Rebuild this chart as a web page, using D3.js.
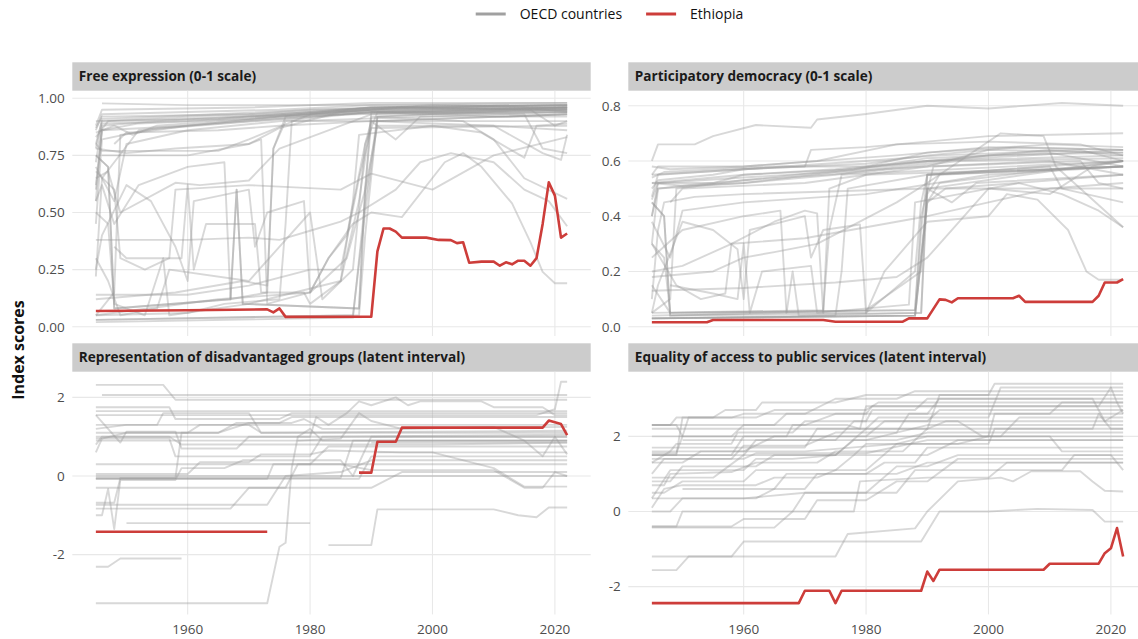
<!DOCTYPE html>
<html>
<head>
<meta charset="utf-8">
<script src="https://cdn.jsdelivr.net/npm/d3@7"></script>
<style>
  body { margin: 0; background: #fff; }
  text { font-family: "Open Sans", "Noto Sans", sans-serif; }
</style>
</head>
<body>
<svg id="chart" width="1138" height="639"></svg>
<script>
// ---- data (year, value) breakpoints ----
const panelTitles = [
  "Free expression (0-1 scale)",
  "Participatory democracy (0-1 scale)",
  "Representation of disadvantaged groups (latent interval)",
  "Equality of access to public services (latent interval)"
];
const seriesNames = ["OECD countries", "Ethiopia"];
const xTicks = [1960, 1980, 2000, 2020];
const yTicksFree = [0, 0.25, 0.5, 0.75, 1];
const yTicksPart = [0, 0.2, 0.4, 0.6, 0.8];
const yTicksLatent = [-2, 0, 2];

const ethFree = [[1945,0.069],[1960,0.072],[1973,0.076],[1974,0.063],[1975,0.08],[1976,0.043],[1990,0.044],
  [1991,0.33],[1992,0.43],[1993,0.43],[1994,0.416],[1995,0.39],[1999,0.39],[2001,0.38],[2003,0.379],[2004,0.366],
  [2005,0.37],[2006,0.28],[2008,0.285],[2010,0.285],[2011,0.267],[2012,0.282],[2013,0.273],[2014,0.289],[2015,0.289],
  [2016,0.267],[2017,0.3],[2018,0.45],[2019,0.632],[2020,0.574],[2021,0.39],[2022,0.408]];
const ethPart = [[1945,0.016],[1954,0.016],[1955,0.024],[1973,0.024],[1975,0.018],[1986,0.018],[1987,0.03],[1990,0.03],
  [1992,0.099],[1993,0.097],[1994,0.088],[1995,0.103],[2004,0.103],[2005,0.112],[2006,0.09],[2017,0.09],[2018,0.112],
  [2019,0.16],[2021,0.16],[2022,0.172]];
const ethRepr = [[1945,-1.42],[1973,-1.42],[1974,null],[1988,0.085],[1990,0.085],[1991,0.87],[1994,0.87],[1995,1.23],
  [2018,1.23],[2019,1.41],[2021,1.32],[2022,1.04]];
const ethEqual = [[1945,-2.44],[1969,-2.44],[1970,-2.11],[1974,-2.11],[1975,-2.44],[1976,-2.11],[1989,-2.11],[1990,-1.6],
  [1991,-1.85],[1992,-1.55],[2009,-1.55],[2010,-1.39],[2018,-1.39],[2019,-1.11],[2020,-0.98],[2021,-0.44],[2022,-1.2]];

const oecdFree = [
  [[1945,0.86],[1946,0.93],[1960,0.94],[1975,0.95],[1990,0.97],[2022,0.97]],
  [[1945,0.88],[1946,0.95],[1970,0.96],[1990,0.98],[2022,0.98]],
  [[1945,0.80],[1946,0.90],[1965,0.91],[1985,0.95],[2000,0.97],[2022,0.96]],
  [[1945,0.55],[1946,0.88],[1955,0.90],[1975,0.93],[1990,0.96],[2022,0.96]],
  [[1945,0.72],[1946,0.89],[1960,0.90],[1990,0.95],[2015,0.96],[2022,0.94]],
  [[1945,0.83],[1947,0.90],[1980,0.93],[1995,0.96],[2016,0.95],[2020,0.88],[2022,0.90]],
  [[1945,0.62],[1946,0.86],[1952,0.89],[1970,0.91],[1990,0.96],[2022,0.97]],
  [[1946,0.978],[1960,0.97],[1985,0.97],[2022,0.98]],
  [[1945,0.85],[1948,0.88],[1951,0.84],[1955,0.88],[1975,0.92],[1995,0.96],[2022,0.95]],
  [[1945,0.78],[1946,0.91],[1990,0.96],[2022,0.97]],
  [[1948,0.80],[1950,0.85],[1965,0.86],[1975,0.88],[1990,0.90],[2010,0.88],[2022,0.86]],
  [[1945,0.70],[1948,0.55],[1950,0.80],[1960,0.86],[1990,0.94],[2022,0.96]],
  [[1945,0.60],[1946,0.86],[1960,0.88],[1990,0.94],[2022,0.94]],
  [[1945,0.45],[1946,0.82],[1955,0.87],[1990,0.95],[2022,0.95]],
  [[1945,0.05],[1948,0.15],[1949,0.84],[1960,0.88],[1990,0.96],[2022,0.97]],
  [[1945,0.22],[1946,0.65],[1952,0.86],[1990,0.94],[2012,0.92],[2022,0.93]],
  [[1945,0.78],[1950,0.76],[1958,0.78],[1970,0.80],[1972,0.82],[1973,0.10],[1980,0.15],[1983,0.30],[1986,0.40],[1989,0.80],[1990,0.90],[2022,0.93]],
  [[1945,0.68],[1948,0.60],[1949,0.30],[1953,0.25],[1957,0.30],[1958,0.60],[1970,0.62],[1985,0.60],[1990,0.67],[2000,0.60],[2010,0.75],[2022,0.83]],
  [[1945,0.55],[1946,0.62],[1948,0.45],[1952,0.62],[1960,0.70],[1966,0.72],[1967,0.12],[1973,0.15],[1974,0.78],[1976,0.90],[2022,0.90]],
  [[1945,0.25],[1946,0.40],[1950,0.62],[1954,0.55],[1958,0.35],[1960,0.20],[1961,0.55],[1970,0.60],[1971,0.35],[1973,0.50],[1979,0.55],[1980,0.15],[1983,0.30],[1987,0.45],[1990,0.50],[1995,0.48],[2002,0.72],[2005,0.76],[2008,0.70],[2013,0.54],[2016,0.37],[2018,0.24],[2020,0.19],[2022,0.19]],
  [[1945,0.38],[1960,0.38],[1970,0.39],[1975,0.38],[1980,0.42],[1985,0.46],[1988,0.50],[1994,0.60],[1998,0.72],[2003,0.76],[2010,0.72],[2015,0.60],[2019,0.55],[2022,0.44]],
  [[1948,0.35],[1950,0.30],[1959,0.30],[1960,0.62],[1961,0.25],[1963,0.45],[1971,0.45],[1972,0.15],[1979,0.15],[1980,0.10],[1985,0.20],[1987,0.55],[1988,0.84],[2000,0.88],[2008,0.85],[2015,0.74],[2017,0.88],[2022,0.89]],
  [[1945,0.05],[1960,0.06],[1966,0.10],[1975,0.12],[1976,0.45],[1977,0.90],[2022,0.94]],
  [[1945,0.12],[1958,0.15],[1969,0.20],[1973,0.18],[1974,0.78],[1976,0.92],[2022,0.96]],
  [[1945,0.50],[1947,0.45],[1948,0.10],[1953,0.05],[1956,0.30],[1957,0.05],[1970,0.10],[1985,0.20],[1988,0.55],[1990,0.92],[2005,0.90],[2010,0.82],[2015,0.65],[2022,0.56]],
  [[1945,0.30],[1947,0.20],[1949,0.05],[1955,0.08],[1957,0.25],[1970,0.20],[1980,0.50],[1982,0.12],[1987,0.25],[1989,0.80],[1991,0.94],[2015,0.93],[2018,0.78],[2022,0.76]],
  [[1945,0.75],[1947,0.70],[1948,0.08],[1967,0.12],[1968,0.60],[1969,0.10],[1988,0.08],[1989,0.60],[1990,0.94],[2022,0.95]],
  [[1945,0.75],[1947,0.70],[1948,0.08],[1967,0.12],[1968,0.60],[1969,0.10],[1988,0.08],[1989,0.60],[1990,0.90],[1994,0.82],[1998,0.92],[2022,0.92]],
  [[1945,0.05],[1965,0.12],[1980,0.15],[1986,0.30],[1989,0.60],[1991,0.88],[2010,0.88],[2018,0.76],[2021,0.73],[2022,0.84]],
  [[1945,0.03],[1988,0.05],[1989,0.40],[1991,0.92],[2022,0.96]],
  [[1945,0.03],[1987,0.05],[1989,0.50],[1991,0.90],[2022,0.93]],
  [[1945,0.02],[1987,0.04],[1989,0.55],[1991,0.92],[2022,0.95]],
  [[1945,0.90],[1960,0.92],[1990,0.95],[2022,0.96]],
  [[1945,0.87],[1946,0.92],[1970,0.93],[1980,0.95],[2022,0.97]],
  [[1945,0.14],[1950,0.14],[1960,0.14],[1970,0.18],[1980,0.25],[1985,0.25],[1988,0.65],[1990,0.87],[2022,0.88]],
  [[1945,0.65],[1947,0.68],[1949,0.50],[1958,0.63],[1962,0.62],[1970,0.64],[1975,0.78],[1990,0.93],[2022,0.94]],
  [[1945,0.80],[1946,0.77],[1965,0.77],[1970,0.82],[1980,0.93],[2022,0.95]],
  [[1946,0.75],[1960,0.75],[1970,0.80],[1975,0.87],[1985,0.94],[2022,0.96]]
];

const oecdPart = [
  [[1945,0.60],[1946,0.66],[1952,0.66],[1955,0.69],[1962,0.73],[1971,0.72],[1972,0.75],[1980,0.77],[1990,0.80],[2000,0.79],[2012,0.81],[2022,0.80]],
  [[1945,0.55],[1946,0.58],[1960,0.58],[1972,0.60],[1985,0.66],[2000,0.69],[2022,0.70]],
  [[1945,0.47],[1946,0.55],[1960,0.57],[1980,0.59],[1990,0.62],[2005,0.65],[2022,0.64]],
  [[1945,0.52],[1950,0.53],[1960,0.55],[1975,0.57],[1990,0.60],[2010,0.64],[2022,0.62]],
  [[1945,0.54],[1947,0.56],[1965,0.58],[1980,0.58],[1990,0.63],[2010,0.66],[2022,0.65]],
  [[1945,0.50],[1946,0.53],[1955,0.55],[1960,0.57],[1980,0.60],[1992,0.62],[2015,0.64],[2022,0.60]],
  [[1945,0.58],[1948,0.57],[1960,0.58],[1985,0.62],[2000,0.65],[2022,0.64]],
  [[1945,0.46],[1946,0.52],[1955,0.52],[1960,0.55],[1978,0.57],[1990,0.61],[2010,0.63],[2022,0.58]],
  [[1945,0.52],[1950,0.51],[1960,0.52],[1975,0.55],[1985,0.58],[2000,0.62],[2022,0.63]],
  [[1945,0.40],[1946,0.50],[1950,0.51],[1960,0.53],[1980,0.56],[1995,0.60],[2022,0.61]],
  [[1945,0.55],[1960,0.57],[1970,0.58],[1971,0.64],[1980,0.65],[1985,0.66],[2000,0.67],[2015,0.66],[2022,0.62]],
  [[1948,0.45],[1950,0.50],[1970,0.52],[1990,0.58],[2010,0.60],[2022,0.55]],
  [[1945,0.40],[1946,0.52],[1960,0.54],[1990,0.58],[2000,0.64],[2022,0.63]],
  [[1945,0.30],[1946,0.50],[1960,0.52],[1990,0.60],[2022,0.62]],
  [[1945,0.05],[1948,0.10],[1949,0.50],[1960,0.53],[1990,0.60],[2022,0.64]],
  [[1945,0.10],[1946,0.35],[1947,0.45],[1952,0.47],[1960,0.48],[1990,0.50],[2022,0.50]],
  [[1945,0.38],[1948,0.25],[1950,0.42],[1960,0.45],[1980,0.48],[2000,0.55],[2022,0.58]],
  [[1945,0.20],[1950,0.22],[1958,0.30],[1965,0.38],[1970,0.42],[1972,0.41],[1973,0.05],[1980,0.05],[1988,0.20],[1989,0.45],[1990,0.55],[2022,0.58]],
  [[1945,0.30],[1949,0.15],[1953,0.10],[1957,0.12],[1958,0.30],[1970,0.32],[1990,0.40],[2000,0.45],[2010,0.50],[2022,0.52]],
  [[1945,0.25],[1950,0.35],[1960,0.40],[1966,0.42],[1967,0.05],[1973,0.05],[1974,0.50],[1980,0.55],[2022,0.58]],
  [[1945,0.05],[1946,0.15],[1950,0.38],[1955,0.35],[1959,0.28],[1960,0.10],[1961,0.35],[1970,0.40],[1971,0.25],[1973,0.35],[1979,0.37],[1980,0.05],[1983,0.20],[1990,0.38],[2000,0.40],[2003,0.48],[2008,0.46],[2013,0.35],[2016,0.20],[2018,0.17],[2022,0.17]],
  [[1945,0.13],[1960,0.14],[1975,0.16],[1985,0.18],[1990,0.25],[1994,0.35],[2000,0.50],[2005,0.52],[2012,0.48],[2018,0.42],[2022,0.36]],
  [[1948,0.15],[1955,0.12],[1959,0.10],[1960,0.30],[1961,0.05],[1963,0.20],[1971,0.22],[1972,0.05],[1987,0.08],[1988,0.45],[2000,0.50],[2010,0.48],[2017,0.58],[2022,0.60]],
  [[1945,0.03],[1975,0.04],[1976,0.20],[1977,0.50],[1990,0.55],[2022,0.58]],
  [[1945,0.05],[1973,0.06],[1974,0.35],[1976,0.55],[2022,0.60]],
  [[1945,0.30],[1947,0.25],[1948,0.05],[1988,0.06],[1989,0.35],[1990,0.55],[2010,0.58],[2012,0.50],[2022,0.45]],
  [[1945,0.15],[1948,0.05],[1988,0.06],[1989,0.40],[1991,0.58],[2015,0.60],[2018,0.52],[2022,0.50]],
  [[1945,0.45],[1947,0.40],[1948,0.04],[1967,0.05],[1968,0.20],[1969,0.04],[1989,0.05],[1990,0.55],[2022,0.60]],
  [[1945,0.45],[1947,0.40],[1948,0.04],[1989,0.05],[1990,0.50],[1994,0.45],[1998,0.52],[2022,0.55]],
  [[1945,0.04],[1980,0.06],[1989,0.20],[1990,0.50],[2022,0.60]],
  [[1945,0.03],[1988,0.04],[1990,0.45],[1992,0.52],[2022,0.60]],
  [[1945,0.03],[1988,0.04],[1990,0.45],[1993,0.50],[2022,0.55]],
  [[1945,0.03],[1988,0.04],[1990,0.48],[1992,0.55],[2022,0.58]],
  [[1945,0.18],[1955,0.20],[1960,0.25],[1965,0.27],[1972,0.30],[1985,0.45],[1990,0.52],[2002,0.70],[2009,0.69],[2011,0.58],[2015,0.50],[2022,0.36]]
];

const oecdRepr = [
  [[1945,2.32],[1956,2.32],[1958,1.94],[2022,1.94]],
  [[1946,2.06],[2022,2.06]],
  [[1945,1.55],[2017,1.55],[2020,1.70],[2021,2.40],[2022,2.40]],
  [[1945,1.55],[1947,1.20],[1949,0.85],[1950,1.13],[1958,1.13],[1959,0.70],[1968,0.70],[1970,1.00],[2022,1.00]],
  [[1945,0.80],[1946,1.00],[1957,1.00],[1959,0.80],[2000,0.80],[2022,0.85]],
  [[1945,0.60],[1946,0.95],[1950,1.10],[1965,1.10],[1970,1.35],[1977,1.35],[1979,1.45],[1982,1.20],[1990,1.20],[2022,1.25]],
  [[1945,-0.05],[1958,-0.05],[1959,1.10],[1965,1.10],[1968,1.35],[1975,1.35],[1977,1.50],[2022,1.50]],
  [[1945,-0.07],[1973,-0.07],[1974,0.30],[1980,0.30],[1983,0.75],[2022,0.75]],
  [[1945,-0.07],[1988,-0.07],[1990,0.50],[2022,0.50]],
  [[1945,-0.73],[1973,-0.73],[1976,0.00],[1985,0.10],[1990,0.40],[2022,0.40]],
  [[1945,-0.83],[1967,-0.83],[1970,-0.30],[1976,-0.30],[1978,0.30],[2022,0.30]],
  [[1945,-1.00],[1946,-1.00],[1947,-0.33],[1948,-1.35],[1949,-0.10],[1958,-0.10],[1959,0.20],[1966,0.20],[1969,0.40],[1985,0.40],[1987,0.00],[1990,1.00],[2022,1.00]],
  [[1945,-2.31],[1947,-2.31],[1949,-2.10],[1959,-2.10]],
  [[1945,-3.24],[1973,-3.24],[1975,-1.80],[1976,-1.70],[1977,0.20],[1978,1.00],[1980,1.20],[1982,0.90],[2022,0.90]],
  [[1950,-1.20],[1980,-1.20]],
  [[1983,-1.76],[1990,-1.76],[1991,-0.85],[2010,-0.85],[2014,-1.00],[2017,-1.05],[2019,-0.80],[2022,-0.80]],
  [[1945,0.95],[1957,0.95],[1958,0.50],[1980,0.50],[1982,1.00],[2022,1.05]],
  [[1945,1.30],[2022,1.30]],
  [[1945,1.10],[1960,1.10],[1962,1.30],[1970,1.30],[1972,1.10],[2022,1.10]],
  [[1945,0.90],[2022,0.90]],
  [[1945,1.20],[1950,1.30],[1955,1.30],[1956,1.60],[1970,1.60],[1972,1.10],[2022,1.15]],
  [[1945,0.05],[1960,0.05],[1962,0.35],[1970,0.35],[1972,0.55],[1980,0.55],[1983,0.65],[1995,0.60],[2000,0.60],[2010,0.20],[2015,-0.27],[2022,-0.27]],
  [[1945,1.00],[1980,1.00],[1981,1.50],[1983,1.30],[1986,1.60],[1988,1.90],[1990,1.80],[1994,2.00],[1996,1.80],[1998,1.90],[2008,1.90],[2010,1.75],[2018,1.75],[2020,1.55],[2022,1.55]],
  [[1945,0.30],[1985,0.30],[1990,0.15],[2010,0.15],[2015,-0.30],[2018,-0.30],[2020,0.10],[2022,0.00]],
  [[1945,1.75],[1957,1.75],[1958,1.45],[1975,1.45],[1977,1.60],[2022,1.60]],
  [[1978,0.90],[1985,0.95],[1988,1.60],[1990,1.40],[1995,1.20],[2010,1.25],[2015,0.90],[2018,0.50],[2020,1.00],[2022,0.55]],
  [[1990,0.85],[2022,0.85]],
  [[1991,0.60],[2022,0.60]],
  [[1945,-0.30],[1990,-0.30],[1995,0.10],[2022,0.10]],
  [[1945,0.00],[2022,0.00]],
  [[1945,1.65],[2022,1.65]],
  [[1945,-0.68],[1948,-0.68],[1949,-0.05],[1985,-0.05],[1987,0.90],[2022,0.90]]
];

const oecdEqual = [
  [[1945,2.30],[1948,2.30],[1949,2.50],[1955,2.50],[1957,2.70],[1962,2.70],[1963,2.90],[1975,2.90],[1980,3.10],[2000,3.10],[2001,3.40],[2022,3.40]],
  [[1945,2.30],[1949,2.30],[1950,2.00],[1958,2.00],[1960,2.30],[1970,2.30],[1975,2.60],[1980,2.60],[1981,2.80],[2018,2.80],[2020,3.30],[2021,2.90],[2022,2.60]],
  [[1945,1.60],[1948,1.60],[1949,1.80],[1958,1.80],[1959,2.10],[1968,2.10],[1970,2.40],[1980,2.40],[1981,2.70],[1988,2.70],[1990,3.00],[2022,3.00]],
  [[1945,1.50],[1949,1.50],[1950,2.50],[1958,2.50],[1960,2.60],[1970,2.60],[1975,3.00],[1985,3.00],[1988,3.20],[2022,3.20]],
  [[1945,1.55],[1949,1.55],[1950,2.00],[1967,2.00],[1968,2.30],[1977,2.30],[1979,2.20],[1980,2.80],[2022,2.80]],
  [[1945,1.00],[1947,1.40],[1958,1.40],[1960,1.75],[1970,1.75],[1975,2.10],[1985,2.10],[1987,2.60],[2010,2.60],[2012,2.90],[2022,2.90]],
  [[1945,1.30],[1950,1.30],[1953,1.60],[1960,1.60],[1965,2.00],[1980,2.00],[1983,2.40],[1995,2.40],[1999,2.00],[2002,2.00],[2005,2.50],[2022,2.50]],
  [[1945,0.80],[1948,0.80],[1950,1.20],[1962,1.20],[1965,1.50],[1978,1.50],[1980,1.80],[1995,1.80],[2000,2.00],[2022,2.00]],
  [[1945,0.70],[1947,0.70],[1948,1.00],[1958,1.05],[1962,1.30],[1972,1.30],[1975,1.60],[1986,1.60],[1990,2.20],[2017,2.20],[2018,2.60],[2020,2.20],[2022,2.20]],
  [[1945,0.35],[1948,1.10],[1960,1.10],[1962,1.40],[1968,1.40],[1975,1.50],[1978,1.90],[1985,1.90],[1990,2.10],[2022,2.10]],
  [[1945,0.10],[1947,0.60],[1950,0.70],[1962,0.70],[1965,0.90],[1972,0.90],[1975,1.10],[1980,1.10],[1985,1.80],[2000,1.80],[2001,2.20],[2022,2.20]],
  [[1945,0.50],[1947,0.50],[1950,0.80],[1960,0.80],[1962,1.10],[1975,1.10],[1978,1.50],[1990,1.50],[1995,1.90],[2022,1.90]],
  [[1945,0.00],[1948,0.00],[1950,0.35],[1962,0.35],[1965,0.60],[1970,0.60],[1972,1.00],[1980,1.00],[1983,1.30],[1988,1.30],[1990,1.70],[2022,1.70]],
  [[1945,2.00],[1950,2.00],[1951,2.50],[1962,2.50],[1965,2.70],[1980,2.70],[1982,2.90],[2022,2.90]],
  [[1945,-0.40],[1949,-0.40],[1950,0.00],[1968,0.00],[1970,0.50],[1980,0.50],[1985,1.20],[1990,1.20],[1995,1.50],[2022,1.50]],
  [[1945,-0.40],[1958,-0.40],[1960,-0.20],[1970,-0.20],[1972,0.30],[1980,0.30],[1985,0.80],[1990,0.80],[1995,1.40],[2022,1.40]],
  [[1945,-1.20],[1958,-1.20],[1960,-0.80],[1989,-0.80],[1992,0.00],[2000,0.00],[2008,0.07],[2017,0.04],[2019,-0.27],[2022,-0.27]],
  [[1945,-1.56],[1949,-1.56],[1951,-1.20],[1975,-1.20],[1977,-0.60],[1988,-0.45],[1990,0.00],[1995,0.80],[2002,0.90],[2004,0.80],[2007,1.07],[2015,1.07],[2017,0.80],[2019,0.55],[2022,0.53]],
  [[1945,-0.43],[1965,-0.43],[1968,0.00],[1978,0.00],[1979,0.80],[1990,0.90],[2000,0.90],[2003,1.30],[2022,1.30]],
  [[1945,1.50],[1960,1.50],[1962,1.90],[1975,1.90],[1978,2.40],[1990,2.40],[1992,2.70],[2022,2.70]],
  [[1945,2.20],[1980,2.20],[1982,2.50],[2000,2.50],[2002,3.30],[2022,3.30]],
  [[1945,1.70],[1970,1.70],[1972,2.20],[1990,2.20],[1993,2.40],[2022,2.40]],
  [[1950,1.90],[1980,1.90],[1990,2.30],[2022,2.30]],
  [[1945,1.30],[1948,1.60],[1970,1.60],[1985,1.80],[1990,2.00],[2010,2.00],[2012,1.60],[2022,1.60]],
  [[1945,0.90],[1955,0.90],[1960,1.50],[1975,1.50],[1980,2.20],[1990,2.20],[1992,3.10],[2022,3.10]],
  [[1945,1.40],[1960,1.40],[1962,1.55],[1980,1.55],[1990,1.90],[2022,1.90]],
  [[1950,0.60],[1965,0.60],[1967,1.00],[1985,1.00],[1990,1.30],[2022,1.30]],
  [[1945,0.35],[1960,0.35],[1970,0.50],[1985,0.50],[1988,1.10],[2012,1.10],[2014,1.50],[2020,1.50],[2021,1.30],[2022,1.10]],
  [[1945,2.30],[1965,2.30],[1967,2.60],[1990,2.60],[1992,3.00],[2017,3.00],[2019,2.40],[2022,2.70]],
  [[1945,1.50],[1958,1.50],[1960,2.00],[2000,2.00],[2001,2.60],[2022,2.60]]
];

// ---- layout ----
const svg = d3.select("#chart");
const GRAY = "#999999", RED = "#cd3d3a", GRID = "#e8e8e8";
const PW = 518.4;
const cols = [72.3, 628.3];
const rows = [{strip: 62.3, top: 90.7, bottom: 336}, {strip: 343.3, top: 371.7, bottom: 614.4}];

const panels = [
  {title: panelTitles[0], gray: oecdFree,  eth: ethFree,  dom: [-0.0407, 1.0333], ticks: yTicksFree,   fmt: d3.format(".2f"), c: 0, r: 0},
  {title: panelTitles[1], gray: oecdPart,  eth: ethPart,  dom: [-0.0337, 0.8543], ticks: yTicksPart,   fmt: d3.format(".1f"), c: 1, r: 0},
  {title: panelTitles[2], gray: oecdRepr,  eth: ethRepr,  dom: [-3.522, 2.654],   ticks: yTicksLatent, fmt: d => String(d), c: 0, r: 1},
  {title: panelTitles[3], gray: oecdEqual, eth: ethEqual, dom: [-2.739, 3.72],    ticks: yTicksLatent, fmt: d => String(d), c: 1, r: 1}
];

panels.forEach((p, i) => {
  const x0 = cols[p.c], row = rows[p.r];
  const x = d3.scaleLinear().domain([1941.15, 2025.85]).range([x0, x0 + PW]);
  const y = d3.scaleLinear().domain(p.dom).range([row.bottom, row.top]);

  // strip
  svg.append("rect").attr("x", x0).attr("y", row.strip).attr("width", PW).attr("height", row.top - row.strip)
    .attr("fill", "#cccccc");
  svg.append("text").attr("x", x0 + 6.5).attr("y", (row.strip + row.top) / 2).attr("dy", "0.36em")
    .attr("font-size", 13.6).attr("font-weight", 700).attr("fill", "#1a1a1a").text(p.title);

  // grid
  const g = svg.append("g");
  g.selectAll(".gx").data(xTicks).join("line")
    .attr("x1", d => x(d)).attr("x2", d => x(d)).attr("y1", row.top).attr("y2", row.bottom)
    .attr("stroke", GRID).attr("stroke-width", 1.1);
  g.selectAll(".gy").data(p.ticks).join("line")
    .attr("x1", x0).attr("x2", x0 + PW).attr("y1", d => y(d)).attr("y2", d => y(d))
    .attr("stroke", GRID).attr("stroke-width", 1.1);

  // y labels
  svg.append("g").selectAll("text").data(p.ticks).join("text")
    .attr("x", x0 - 7.5).attr("y", d => y(d)).attr("dy", "0.36em").attr("text-anchor", "end")
    .attr("font-size", 13.5).attr("fill", "#4d4d4d").text(p.fmt);

  // x labels on bottom row only
  if (p.r === 1) {
    svg.append("g").selectAll("text").data(xTicks).join("text")
      .attr("x", d => x(d)).attr("y", row.bottom + 15).attr("dy", "0.36em").attr("text-anchor", "middle")
      .attr("font-size", 13.5).attr("fill", "#4d4d4d").text(d => d);
  }

  // lines
  svg.append("clipPath").attr("id", "clip" + i).append("rect")
    .attr("x", x0).attr("y", row.top).attr("width", PW).attr("height", row.bottom - row.top);
  const line = d3.line().defined(d => d[1] !== null).x(d => x(d[0])).y(d => y(d[1]));
  const lg = svg.append("g").attr("clip-path", `url(#clip${i})`);
  lg.selectAll(".oecd").data(p.gray).join("path")
    .attr("d", line).attr("fill", "none").attr("stroke", GRAY).attr("stroke-opacity", 0.38)
    .attr("stroke-width", 1.9).attr("stroke-linejoin", "round");
  lg.append("path").datum(p.eth)
    .attr("d", line).attr("fill", "none").attr("stroke", RED).attr("stroke-width", 2.6)
    .attr("stroke-linejoin", "round");
});

// y axis title
svg.append("text").attr("transform", "translate(24,350) rotate(-90)").attr("text-anchor", "middle")
  .attr("font-size", 16).attr("font-weight", 700).attr("fill", "#111").text("Index scores");

// legend, centred over the panels
const leg = svg.append("g");
const legColors = ["#a0a0a0", RED];
let lx = 0;
seriesNames.forEach((n, i) => {
  leg.append("line").attr("x1", lx).attr("x2", lx + 30).attr("y1", 0).attr("y2", 0)
    .attr("stroke", legColors[i]).attr("stroke-width", 3);
  const t = leg.append("text").attr("x", lx + 44).attr("y", 0).attr("dy", "0.36em")
    .attr("font-size", 14).attr("fill", "#111").text(n);
  lx += 44 + t.node().getComputedTextLength() + (i === 0 ? 24 : 0);
});
leg.attr("transform", `translate(${(cols[0] + cols[1] + PW) / 2 - lx / 2},14)`);
</script>
</body>
</html>
